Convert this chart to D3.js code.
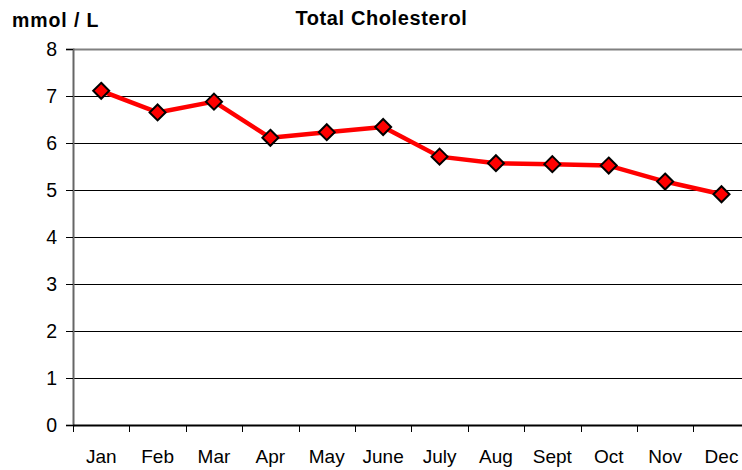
<!DOCTYPE html>
<html>
<head>
<meta charset="utf-8">
<script src="https://cdn.jsdelivr.net/npm/d3@7"></script>
<style>
  body { margin: 0; background: #fff; }
  text { font-family: "Liberation Sans", Arial, sans-serif; }
</style>
</head>
<body>
<script>
var months = ["Jan", "Feb", "Mar", "Apr", "May", "June", "July", "Aug", "Sept", "Oct", "Nov", "Dec"];
var cholesterol = [7.11, 6.65, 6.88, 6.11, 6.23, 6.34, 5.71, 5.57, 5.55, 5.52, 5.18, 4.91];
var yTicks = [0, 1, 2, 3, 4, 5, 6, 7, 8];

var w = 742, h = 470;
var plotLeft = 73, plotTop = 49, plotBottom = 425, plotRight = 749.7;

var svg = d3.select("body").append("svg")
    .attr("width", w)
    .attr("height", h);

var x = d3.scaleBand().domain(months).range([plotLeft, plotRight]).padding(0);
var y = d3.scaleLinear().domain([0, 8]).range([plotBottom, plotTop]);

// gridlines
svg.append("g")
  .selectAll("line")
  .data(yTicks.filter(function(d) { return d > 0; }))
  .enter().append("line")
    .attr("x1", plotLeft).attr("x2", w)
    .attr("y1", function(d) { return y(d) + 0.5; })
    .attr("y2", function(d) { return y(d) + 0.5; })
    .attr("stroke", function(d) { return d == 8 ? "#808080" : "#000"; })
    .attr("stroke-width", function(d) { return d == 8 ? 2 : 1; });

// y axis
var yAxis = svg.append("g")
    .attr("transform", "translate(" + plotLeft + ",0)")
    .call(d3.axisLeft(y).tickValues(yTicks).tickSize(7).tickPadding(9).tickFormat(d3.format("d")));
yAxis.select(".domain").attr("stroke", "#666").attr("stroke-width", 2);
yAxis.selectAll(".tick line").attr("stroke", "#000");
yAxis.selectAll("text").attr("font-size", 19.5).attr("fill", "#000")
    .style("font-family", "'Liberation Sans', Arial, sans-serif");

// x axis
var xg = svg.append("g").attr("transform", "translate(0," + plotBottom + ")");
xg.append("line").attr("x1", plotLeft).attr("x2", w).attr("y1", 0.5).attr("y2", 0.5)
  .attr("stroke", "#000").attr("stroke-width", 2);
xg.selectAll("line.tk")
  .data(months)
  .enter().append("line")
    .attr("class", "tk")
    .attr("x1", function(d) { return Math.round(x(d)) + 0.5; })
    .attr("x2", function(d) { return Math.round(x(d)) + 0.5; })
    .attr("y1", 0).attr("y2", 7)
    .attr("stroke", "#000");
xg.selectAll("text")
  .data(months)
  .enter().append("text")
    .attr("x", function(d) { return x(d) + x.bandwidth() / 2; })
    .attr("y", 38)
    .attr("text-anchor", "middle")
    .attr("font-size", 19)
    .text(function(d) { return d; });

// line
var pts = months.map(function(m, i) { return [x(m) + x.bandwidth() / 2, y(cholesterol[i])]; });
svg.append("path")
  .attr("d", d3.line()(pts))
  .attr("fill", "none")
  .attr("stroke", "#ff0000")
  .attr("stroke-width", 4.5)
  .attr("stroke-linejoin", "round");

// diamond markers
svg.selectAll("path.mk")
  .data(pts)
  .enter().append("path")
    .attr("class", "mk")
    .attr("d", function(p) {
      var r = 8;
      return "M" + p[0] + "," + (p[1] - r) + "L" + (p[0] + r) + "," + p[1] +
             "L" + p[0] + "," + (p[1] + r) + "L" + (p[0] - r) + "," + p[1] + "Z";
    })
    .attr("fill", "#ff0000")
    .attr("stroke", "#000")
    .attr("stroke-width", 2);

// titles
svg.append("text")
  .attr("x", 381.5).attr("y", 25)
  .attr("text-anchor", "middle")
  .attr("font-size", 20)
  .attr("font-weight", "bold")
  .attr("letter-spacing", 0.6)
  .text("Total Cholesterol");

svg.append("text")
  .attr("x", 12).attr("y", 27)
  .attr("font-size", 19.5)
  .attr("font-weight", "bold")
  .attr("letter-spacing", 0.9)
  .text("mmol / L");
</script>
</body>
</html>
